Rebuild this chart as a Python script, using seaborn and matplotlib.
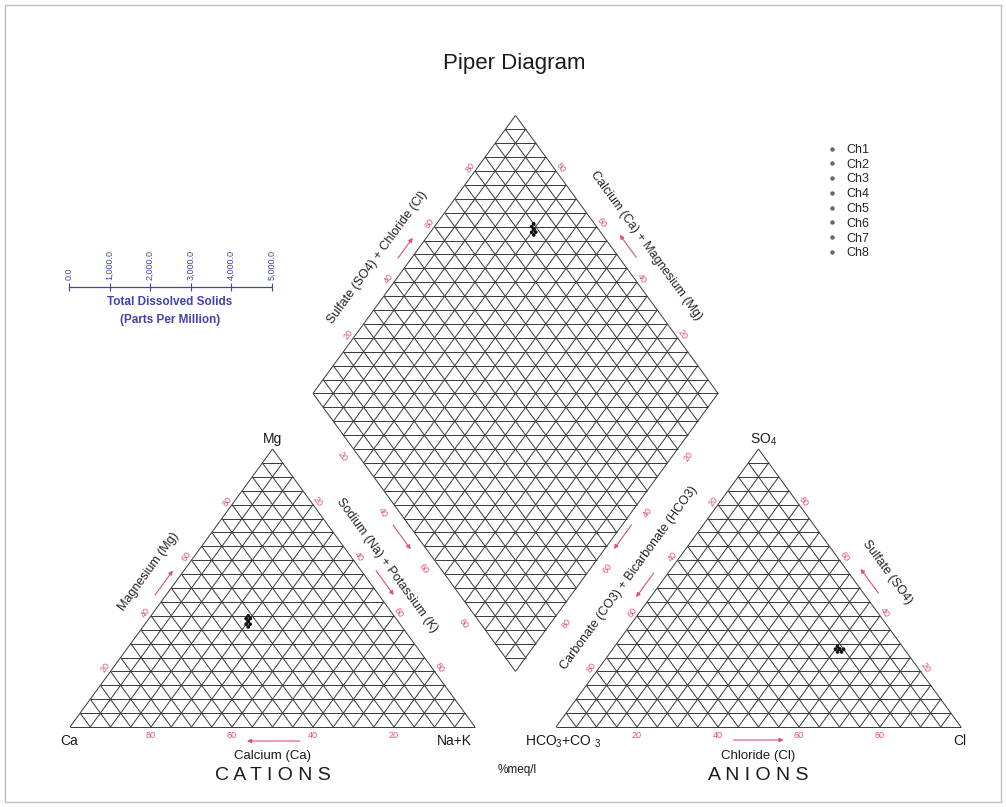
import numpy as np
import pandas as pd
import matplotlib
matplotlib.use("Agg")
import matplotlib.pyplot as plt
from matplotlib.lines import Line2D
from matplotlib.patches import Rectangle
from matplotlib.collections import LineCollection
from matplotlib.ticker import FuncFormatter
import seaborn as sns

# ---- sample chemistry (% meq/l) ----
samples = ["Ch1", "Ch2", "Ch3", "Ch4", "Ch5", "Ch6", "Ch7", "Ch8"]
ca = [37, 37, 36, 38, 37, 36, 38, 37]
mg = [38, 39, 40, 37, 38, 39, 36, 37]
na_k = [25, 24, 24, 25, 25, 25, 26, 26]
hco3_co3 = [16, 16, 15, 16, 17, 16, 16, 17]
so4 = [28, 28, 28, 27, 27, 28, 29, 28]
cl = [56, 56, 57, 57, 56, 56, 55, 55]

edge_values = [20, 40, 60, 80]
tds_values = [0, 1000, 2000, 3000, 4000, 5000]

sns.set_theme(style="white")
plt.rcParams["font.family"] = ["Liberation Sans", "DejaVu Sans"]
plt.rcParams["mathtext.fontset"] = "custom"
plt.rcParams["mathtext.rm"] = "Liberation Sans"
plt.rcParams["mathtext.it"] = "Liberation Sans:italic"
plt.rcParams["mathtext.bf"] = "Liberation Sans:bold"

W, HP = 1006, 807
fig = plt.figure(figsize=(W / 100, HP / 100), dpi=100)
fig.patch.set_facecolor("white")
ax = fig.add_axes([0, 0, 1, 1])
ax.set_xlim(-70 / 405, 936 / 405)
ax.set_ylim(-80 / 321, 727 / 321)
ax.set_axis_off()

RED = "#e0506a"
GRID = "#383838"
BLUE = "#4242b0"

# ---- geometry ----
GAP = 0.2
H = np.sqrt(3) / 2
CA = np.array([0.0, 0.0]); NAK = np.array([1.0, 0.0]); MG = np.array([0.5, H])
HC = np.array([1 + GAP, 0.0]); CL = np.array([2 + GAP, 0.0]); SO = np.array([1.5 + GAP, H])
B = np.array([1 + GAP / 2, GAP * H])
U1 = np.array([-0.5, H]); U2 = np.array([0.5, H])
L = B + U1; R = B + U2; T = B + U1 + U2
cen_left = np.array([0.5, H / 3])
cen_right = np.array([1.5 + GAP, H / 3])
cen_dia = B + (U1 + U2) / 2

# ---- grid lines every 5 % ----
N = 20
segs = []
for o in (CA, HC):
    for i in range(N):
        t = i / N
        segs.append([o + (0.5 * t, H * t), o + (1 - 0.5 * t, H * t)])
        segs.append([o + (t, 0), o + (t + 0.5 * (1 - t), H * (1 - t))])
        segs.append([o + (1 - t, 0), o + (0.5 * (1 - t), H * (1 - t))])
for i in range(N + 1):
    t = i / N
    segs.append([B + t * U1, B + t * U1 + U2])
    segs.append([B + t * U2, B + U1 + t * U2])
for k in range(1, 2 * N):
    y = B[1] + H * k / N
    hw = 0.5 * min(k, 2 * N - k) / N
    segs.append([(B[0] - hw, y), (B[0] + hw, y)])
ax.add_collection(LineCollection(segs, colors=GRID, linewidths=0.7, zorder=2))

# ---- project samples into the three plotting fields ----
df = pd.DataFrame({"sample": samples, "ca": ca, "mg": mg, "na_k": na_k,
                   "hco3_co3": hco3_co3, "so4": so4, "cl": cl})
cat = pd.DataFrame({"sample": df["sample"],
                    "x": CA[0] + df["na_k"] / 100 + 0.5 * df["mg"] / 100,
                    "y": H * df["mg"] / 100})
an = pd.DataFrame({"sample": df["sample"],
                   "x": HC[0] + df["cl"] / 100 + 0.5 * df["so4"] / 100,
                   "y": H * df["so4"] / 100})
camg = (df["ca"] + df["mg"]) / 100
so4cl = (df["so4"] + df["cl"]) / 100
dia = pd.DataFrame({"sample": df["sample"],
                    "x": B[0] + camg * U1[0] + so4cl * U2[0],
                    "y": B[1] + camg * U1[1] + so4cl * U2[1]})
pts = pd.concat([cat, an, dia], ignore_index=True)
sns.scatterplot(data=pts, x="x", y="y", hue="sample", palette=["#111111"] * len(samples),
                s=7, linewidth=0, legend=False, ax=ax, zorder=5)
ax.set_xlim(-70 / 405, 936 / 405)
ax.set_ylim(-80 / 321, 727 / 321)
ax.set_axis_off()


def px(p):
    return ax.transData.transform(np.asarray(p, float))


def dat(q):
    return ax.transData.inverted().transform(np.asarray(q, float))


def edge_frame(p0, p1, inside):
    a, b = px(p0), px(p1)
    u = (b - a) / np.hypot(*(b - a))
    n = np.array([-u[1], u[0]])
    if np.dot(px(inside) - a, n) > 0:
        n = -n
    ang = np.degrees(np.arctan2(u[1], u[0]))
    if ang > 90:
        ang -= 180
    if ang <= -90:
        ang += 180
    return a, b, u, n, ang


def edge_text(p0, p1, inside, t, off, s, rotate=True, **kw):
    a, b, u, n, ang = edge_frame(p0, p1, inside)
    q = a + t * (b - a) + off * n
    ax.text(*dat(q), s, rotation=ang if rotate else 0, rotation_mode="anchor",
            ha="center", va="center", **kw)


def edge_arrow(p0, p1, inside, t, off, length):
    a, b, u, n, ang = edge_frame(p0, p1, inside)
    c = a + t * (b - a) + off * n
    ax.annotate("", xy=dat(c + u * length / 2), xytext=dat(c - u * length / 2),
                arrowprops=dict(arrowstyle="-|>", color=RED, lw=0.8,
                                mutation_scale=6, shrinkA=0, shrinkB=0))


def near(p, dx, dy, s, **kw):
    ax.annotate(s, xy=p, xytext=(dx * 0.72, -dy * 0.72), textcoords="offset points",
                ha="center", va="center", **kw)


tick_kw = dict(color=RED, fontsize=6.5)
side_kw = dict(color="#222222", fontsize=9)

# ---- cation triangle ----
for v in edge_values:
    edge_text(NAK, CA, cen_left, v / 100, 8, str(v), rotate=False, **tick_kw)
    edge_text(CA, MG, cen_left, v / 100, 6, str(v), **tick_kw)
    edge_text(MG, NAK, cen_left, v / 100, 6, str(v), **tick_kw)
edge_text(CA, MG, cen_left, 0.5, 28, "Magnesium (Mg)", **side_kw)
edge_text(MG, NAK, cen_left, 0.47, 24, "Sodium (Na) + Potassium (K)", **side_kw)
edge_arrow(CA, MG, cen_left, 0.5, 9, 30)
edge_arrow(MG, NAK, cen_left, 0.507, 12, 30)
edge_arrow(NAK, CA, cen_left, 0.4975, 14, 53)

# ---- anion triangle ----
for v in edge_values:
    edge_text(HC, CL, cen_right, v / 100, 8, str(v), rotate=False, **tick_kw)
    edge_text(SO, HC, cen_right, v / 100, 6, str(v), **tick_kw)
    edge_text(CL, SO, cen_right, v / 100, 6, str(v), **tick_kw)
edge_text(HC, SO, cen_right, 0.475, 29, "Carbonate (CO3) + Bicarbonate (HCO3)", **side_kw)
edge_text(SO, CL, cen_right, 0.51, 31, "Sulfate (SO4)", **side_kw)
edge_arrow(SO, HC, cen_right, 0.514, 11.7, 30)
edge_arrow(CL, SO, cen_right, 0.5, 12, 30)
edge_arrow(HC, CL, cen_right, 0.5, 13, 50)

# ---- diamond ----
for v in edge_values:
    edge_text(L, T, cen_dia, v / 100, 6, str(v), **tick_kw)
    edge_text(R, T, cen_dia, v / 100, 6, str(v), **tick_kw)
    edge_text(L, B, cen_dia, v / 100, 13.5, str(v), **tick_kw)
    edge_text(R, B, cen_dia, v / 100, 13.5, str(v), **tick_kw)
edge_text(L, T, cen_dia, 0.43, 28.5, "Sulfate (SO4) + Chloride (Cl)", **side_kw)
edge_text(T, R, cen_dia, 0.53, 29, "Calcium (Ca) + Magnesium (Mg)", **side_kw)
edge_arrow(L, T, cen_dia, 0.5, 11, 25)
edge_arrow(R, T, cen_dia, 0.5, 14, 28)
edge_arrow(L, B, cen_dia, 0.49, 12.8, 30)
edge_arrow(R, B, cen_dia, 0.5, 7.5, 30)

# ---- vertex and panel labels ----
vk = dict(color="#1a1a1a", fontsize=10)
near(CA, -1, 14, "Ca", **vk)
near(NAK, -21, 14, "Na+K", **vk)
near(MG, 0, -10, "Mg", **vk)
near(HC, 7, 15, r"HCO$_3$+CO $_3$", **vk)
near(CL, -1, 14, "Cl", **vk)
near(SO, 5, -9, r"SO$_4$", **vk)

base_l = (CA + NAK) / 2
base_r = (HC + CL) / 2
near(base_l, 0, 29, "Calcium (Ca)", color="#1a1a1a", fontsize=9.5)
near(base_r, 0, 29, "Chloride (Cl)", color="#1a1a1a", fontsize=9.5)
near(base_l, 0, 48, "C A T I O N S", color="#1a1a1a", fontsize=14)
near(base_r, 0, 48, "A N I O N S", color="#1a1a1a", fontsize=14)
fig.text(517 / W, 1 - 770 / HP, "%meq/l", ha="center", va="center",
         color="#1a1a1a", fontsize=8.5)

fig.text(514 / W, 1 - 63 / HP, "Piper Diagram", ha="center", va="center",
         color="#1a1a1a", fontsize=16)

# ---- legend ----
handles = [Line2D([], [], ls="none", marker="o", ms=2.2, color="#666666") for _ in samples]
fig.legend(handles, samples, loc="upper left", bbox_to_anchor=(828 / W, 1 - 144 / HP),
           frameon=False, fontsize=9, handlelength=0.6, handletextpad=0.9,
           labelspacing=0.22, borderaxespad=0, borderpad=0)

# ---- total dissolved solids scale ----
tax = fig.add_axes([69 / W, 1 - 287 / HP - 0.002, 203 / W, 0.002])
tax.patch.set_alpha(0)
for side in ("left", "right", "bottom"):
    tax.spines[side].set_visible(False)
tax.spines["top"].set_color(BLUE)
tax.spines["top"].set_linewidth(0.9)
tax.set_xlim(0, 5000)
tax.set_yticks([])
tax.xaxis.tick_top()
tax.set_xticks(tds_values)
tax.xaxis.set_major_formatter(FuncFormatter(lambda v, _: f"{v:,.1f}"))
tax.tick_params(axis="x", direction="inout", length=6, width=0.8, colors=BLUE,
                labelsize=6.5, labelrotation=90, pad=2)
fig.text(170 / W, 1 - 302 / HP, "Total Dissolved Solids", ha="center", va="center",
         color=BLUE, fontsize=8.5, fontweight="bold")
fig.text(170 / W, 1 - 320 / HP, "(Parts Per Million)", ha="center", va="center",
         color=BLUE, fontsize=8.5, fontweight="bold")

fig.add_artist(Rectangle((5 / W, 5 / HP), (W - 10) / W, (HP - 10) / HP,
                         transform=fig.transFigure, fill=False, ec="#bdbdbd", lw=1))

fig.savefig("out.png", dpi=100)
